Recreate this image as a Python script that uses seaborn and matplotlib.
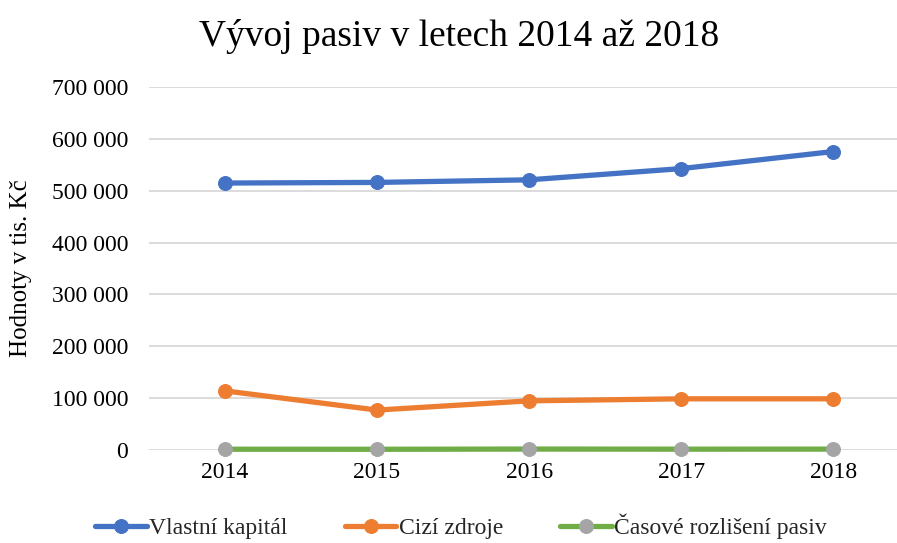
import matplotlib
matplotlib.use("Agg")
import matplotlib.pyplot as plt
import seaborn as sns
from matplotlib.ticker import FuncFormatter, MultipleLocator

years = [2014, 2015, 2016, 2017, 2018]
vlastni_kapital = [514800, 516000, 521000, 542600, 575500]
cizi_zdroje = [114000, 77000, 94800, 98700, 98700]
casove_rozliseni = [1500, 1400, 1800, 1600, 1700]

series_names = ["Vlastní kapitál", "Cizí zdroje", "Časové rozlišení pasiv"]
line_colors = ["#4472C4", "#ED7D31", "#70AD47"]
marker_colors = ["#4472C4", "#ED7D31", "#A5A5A5"]

sns.set_theme(style="whitegrid")
plt.rcParams['font.family'] = ['Liberation Serif', 'DejaVu Serif']

fig = plt.figure(figsize=(8.97, 5.43), dpi=100)
ax = fig.add_axes([149 / 897, 93 / 543, 1 - 149 / 897, 363 / 543])

for name, vals, lc, mc in zip(series_names,
                              [vlastni_kapital, cizi_zdroje, casove_rozliseni],
                              line_colors, marker_colors):
    sns.lineplot(x=years, y=vals, ax=ax, color=lc, linewidth=3.8,
                 marker="o", markersize=10, markerfacecolor=mc,
                 markeredgecolor=mc, label=name, legend=False, clip_on=False)

ax.set_xlim(2013.5, 2018.42)
ax.set_ylim(0, 700000)
ax.set_xticks(years)
ax.yaxis.set_major_locator(MultipleLocator(100000))
ax.yaxis.set_major_formatter(FuncFormatter(lambda v, p: f"{int(v):,}".replace(",", " ")))
ax.grid(axis="y", color="#D9D9D9", linewidth=1.3)
ax.grid(axis="x", visible=False)
for s in ax.spines.values():
    s.set_visible(False)
ax.tick_params(axis="both", labelsize=17, length=0, colors="black")
ax.tick_params(axis="y", pad=15)
ax.tick_params(axis="x", pad=9)
ax.set_xlabel("")
ax.set_ylabel("Hodnoty v tis. Kč", fontsize=18, color="black", labelpad=14)

fig.text(0.512, 0.932, "Vývoj pasiv v letech 2014 až 2018", ha="center", va="center",
         fontsize=27, color="black")

handles, labels = ax.get_legend_handles_labels()
fig.legend(handles, labels, loc="center", bbox_to_anchor=(0.514, 0.03), ncol=3,
           frameon=False, fontsize=17, handlelength=2.2, handletextpad=0.1,
           columnspacing=2.4)

fig.savefig("out.png", dpi=100)
